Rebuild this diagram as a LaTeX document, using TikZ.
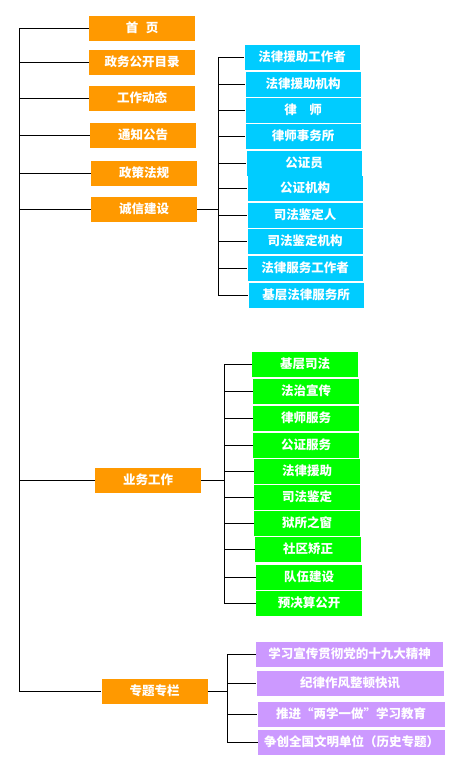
\documentclass[tikz,border=0pt]{standalone}
\usepackage{fontspec}
\usepackage{xcolor}
\usepackage{tikz}
\usetikzlibrary{calc}
\newfontfamily\cjk{Noto Sans CJK SC}
\definecolor{menu}{HTML}{FF9900}
\definecolor{credit}{HTML}{00CCFF}
\definecolor{business}{HTML}{00FF00}
\definecolor{special}{HTML}{CC99FF}
\tikzset{
  link/.style={draw=black, line width=0.8pt},
  box/.style={
    draw=none,
    text=white,
    align=center,
    font=\cjk\bfseries\fontsize{12.5}{14}\selectfont,
    inner sep=0pt,
    minimum height=25pt
  },
  topbox/.style={box, fill=menu, minimum width=106pt},
  creditbox/.style={box, fill=credit, minimum width=115pt},
  workbox/.style={box, fill=business, minimum width=106pt},
  topicbox/.style={box, fill=special, minimum width=187pt}
}

\begin{document}
\begin{tikzpicture}[x=1pt,y=-1pt]
\path[use as bounding box] (0,0) rectangle (458,766);
\fill[white] (0,0) rectangle (458,766);

% main menu
\node[topbox] (home) at (142,28) {首\hspace{0.6em}页};
\node[topbox] (catalog) at (142,62) {政务公开目录};
\node[topbox] (news) at (142,98) {工作动态};
\node[topbox] (notice) at (143,135) {通知公告};
\node[topbox] (policy) at (144,173) {政策法规};
\node[topbox] (integrity) at (144,209) {诚信建设};
\node[topbox] (work) at (148,480) {业务工作};
\node[topbox] (topic) at (154.5,691) {专题专栏};

\coordinate (spine) at (19,0);
\draw[link] (spine |- home) -- (spine |- topic);
\draw[link] (spine |- home) -- (home.west);
\draw[link] (spine |- catalog) -- (catalog.west);
\draw[link] (spine |- news) -- (news.west);
\draw[link] (spine |- notice) -- (notice.west);
\draw[link] (spine |- policy) -- (policy.west);
\draw[link] (spine |- integrity) -- (integrity.west);
\draw[link] (spine |- work) -- (work.west);
\draw[link] (spine |- topic) -- (topic.west);

% integrity branch
\node[creditbox] (aidstaff) at (302,57) {法律援助工作者};
\node[creditbox] (aidorg) at (303,84) {法律援助机构};
\node[creditbox] (lawyer) at (303,110) {律　师};
\node[creditbox] (lawfirm) at (303,136) {律师事务所};
\node[creditbox] (notary) at (304,163) {公证员};
\node[creditbox] (notaryorg) at (305,188) {公证机构};
\node[creditbox] (expert) at (305,215) {司法鉴定人};
\node[creditbox] (expertorg) at (305,241) {司法鉴定机构};
\node[creditbox] (legalstaff) at (305,268) {法律服务工作者};
\node[creditbox] (legalorg) at (306,295) {基层法律服务所};

\coordinate (creditbus) at (218,0);
\draw[link] (integrity.east) -- (creditbus |- integrity);
\draw[link] (creditbus |- aidstaff) -- (creditbus |- legalorg);
\draw[link] (creditbus |- aidstaff) -- (aidstaff.west);
\draw[link] (creditbus |- aidorg) -- (aidorg.west);
\draw[link] (creditbus |- lawyer) -- (lawyer.west);
\draw[link] (creditbus |- lawfirm) -- (lawfirm.west);
\draw[link] (creditbus |- notary) -- (notary.west);
\draw[link] (creditbus |- notaryorg) -- (notaryorg.west);
\draw[link] (creditbus |- expert) -- (expert.west);
\draw[link] (creditbus |- expertorg) -- (expertorg.west);
\draw[link] (creditbus |- legalstaff) -- (legalstaff.west);
\draw[link] (creditbus |- legalorg) -- (legalorg.west);

% work branch
\node[workbox] (grassroots) at (305,364) {基层司法};
\node[workbox] (publicity) at (306,391) {法治宣传};
\node[workbox] (lawsvc) at (306,418) {律师服务};
\node[workbox] (notarysvc) at (306,445) {公证服务};
\node[workbox] (legalaid) at (307,471) {法律援助};
\node[workbox] (appraisal) at (307,497) {司法鉴定};
\node[workbox] (prison) at (307,523) {狱所之窗};
\node[workbox] (community) at (308,549) {社区矫正};
\node[workbox] (team) at (309,577) {队伍建设};
\node[workbox] (budget) at (309,603) {预决算公开};

\coordinate (workbus) at (224,0);
\draw[link] (work.east) -- (workbus |- work);
\draw[link] (workbus |- grassroots) -- (workbus |- budget);
\draw[link] (workbus |- grassroots) -- (grassroots.west);
\draw[link] (workbus |- publicity) -- (publicity.west);
\draw[link] (workbus |- lawsvc) -- (lawsvc.west);
\draw[link] (workbus |- notarysvc) -- (notarysvc.west);
\draw[link] (workbus |- legalaid) -- (legalaid.west);
\draw[link] (workbus |- appraisal) -- (appraisal.west);
\draw[link] (workbus |- prison) -- (prison.west);
\draw[link] (workbus |- community) -- (community.west);
\draw[link] (workbus |- team) -- (team.west);
\draw[link] (workbus |- budget) -- (budget.west);

% topic branch
\node[topicbox] (congress) at (349.5,654) {学习宣传贯彻党的十九大精神};
\node[topicbox] (discipline) at (350,683) {纪律作风整顿快讯};
\node[topicbox] (study) at (351,714) {推进“两学一做”学习教育};
\node[topicbox] (civil) at (351.5,742) {争创全国文明单位（历史专题）};

\coordinate (topicbus) at (227,0);
\draw[link] (topic.east) -- (topicbus |- topic);
\draw[link] (topicbus |- congress) -- (topicbus |- civil);
\draw[link] (topicbus |- congress) -- (congress.west);
\draw[link] (topicbus |- discipline) -- (discipline.west);
\draw[link] (topicbus |- study) -- (study.west);
\draw[link] (topicbus |- civil) -- (civil.west);
\end{tikzpicture}
\end{document}
